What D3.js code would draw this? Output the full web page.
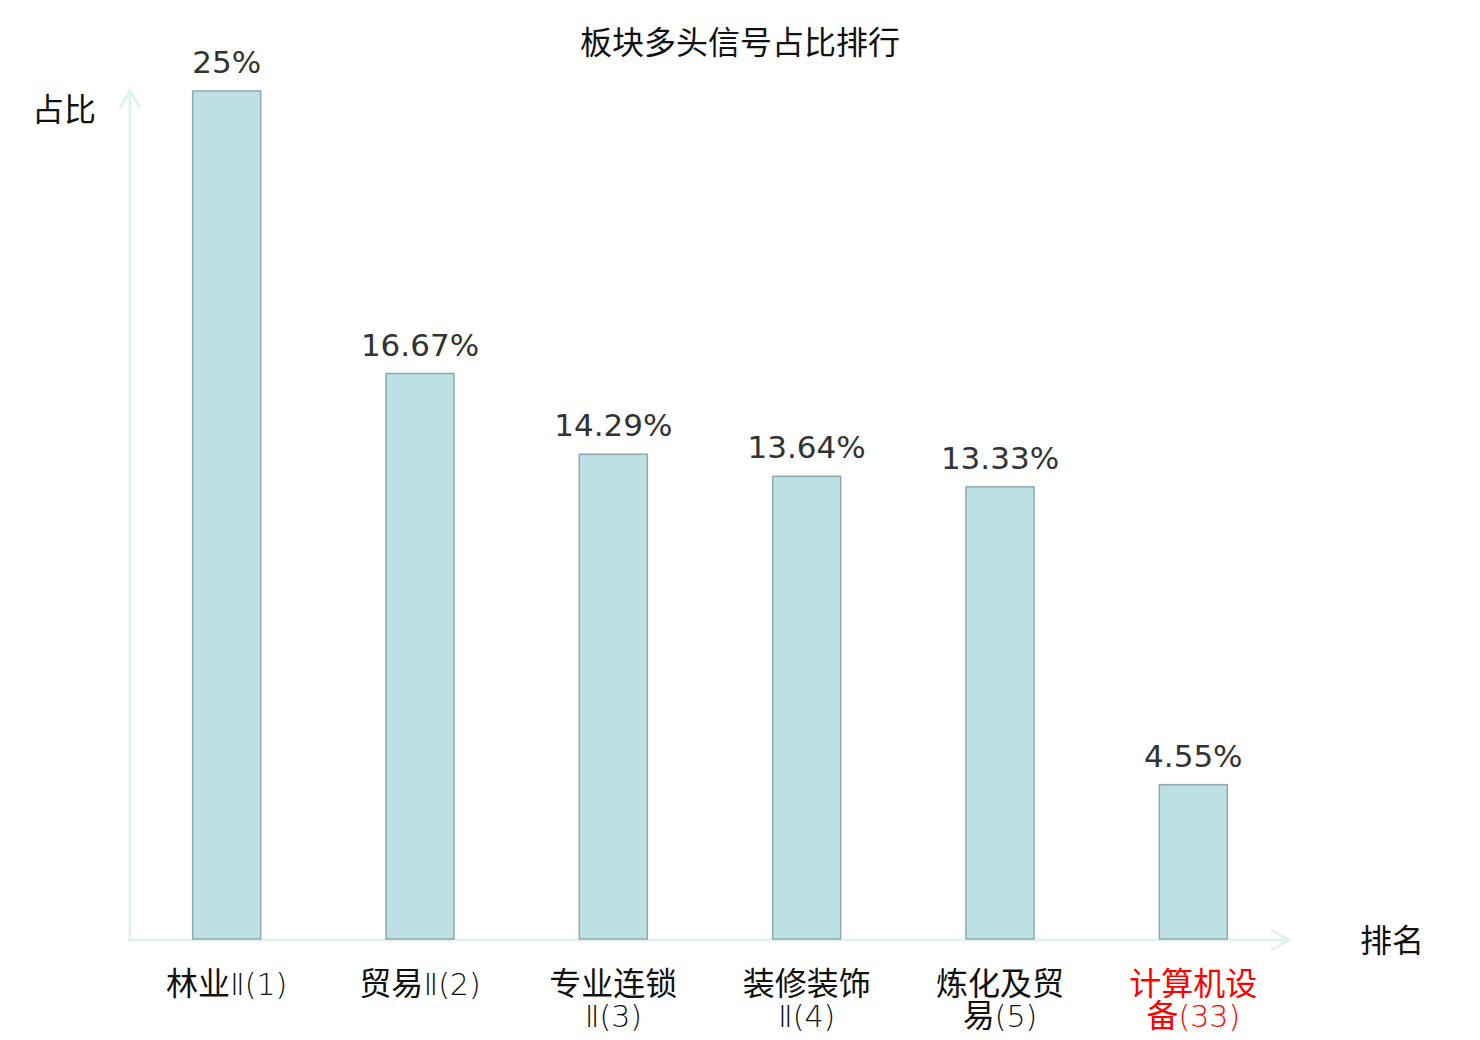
<!DOCTYPE html>
<html><head><meta charset="utf-8">
<script src="https://cdn.jsdelivr.net/npm/d3@7/dist/d3.min.js"></script>
<style>body{margin:0;background:#fff;}svg{display:block;}</style>
</head><body>
<script>
const categories = ["林业Ⅱ(1)", "贸易Ⅱ(2)", "专业连锁Ⅱ(3)", "装修装饰Ⅱ(4)", "炼化及贸易(5)", "计算机设备(33)"];
const labelLines = [["林业Ⅱ(1)"], ["贸易Ⅱ(2)"], ["专业连锁", "Ⅱ(3)"], ["装修装饰", "Ⅱ(4)"], ["炼化及贸", "易(5)"], ["计算机设", "备(33)"]];
const values = [25, 16.67, 14.29, 13.64, 13.33, 4.55];
const valueLabels = ["25%", "16.67%", "14.29%", "13.64%", "13.33%", "4.55%"];
const highlight = [false, false, false, false, false, true];

const W = 1480, H = 1040;
const svg = d3.select("body").append("svg").attr("width", W).attr("height", H);
const cjk = "'Noto Sans CJK SC', 'DejaVu Sans', sans-serif";
const num = "'DejaVu Sans', 'Noto Sans CJK SC', sans-serif";

const x = d3.scaleBand().domain(categories).range([130, 1290]).padding(0);
const y = d3.scaleLinear().domain([0, 25]).range([939, 91]);
const barW = 68;

// axes
const axisColor = "#dff2ef";
svg.append("line").attr("x1", 130).attr("y1", 940).attr("x2", 130).attr("y2", 91)
  .attr("stroke", axisColor).attr("stroke-width", 3);
svg.append("path").attr("d", "M120,108 L130,91 L140,108").attr("fill", "none")
  .attr("stroke", axisColor).attr("stroke-width", 3);
svg.append("line").attr("x1", 128).attr("y1", 940).attr("x2", 1289).attr("y2", 940)
  .attr("stroke", axisColor).attr("stroke-width", 3);
svg.append("path").attr("d", "M1271,930 L1289,940 L1271,950").attr("fill", "none")
  .attr("stroke", axisColor).attr("stroke-width", 3);

// bars
svg.selectAll("rect.bar").data(categories).join("rect")
  .attr("class", "bar")
  .attr("x", d => x(d) + x.bandwidth() / 2 - barW / 2)
  .attr("width", barW)
  .attr("y", (d, i) => y(values[i]))
  .attr("height", (d, i) => y(0) - y(values[i]))
  .attr("fill", "#bce0e3").attr("stroke", "#8fa9aa").attr("stroke-width", 1.5);

// value labels
svg.selectAll("text.val").data(categories).join("text")
  .attr("class", "val")
  .attr("x", d => x(d) + x.bandwidth() / 2)
  .attr("y", (d, i) => y(values[i]) - 18)
  .attr("text-anchor", "middle")
  .attr("font-family", num).attr("font-size", 31).attr("fill", "#333")
  .text((d, i) => valueLabels[i]);

// x labels: CJK parts in CJK font, the rest in a thin Latin face
const isCJK = ch => /[\u3400-\u9fff]/.test(ch);
function segments(s) {
  const out = [];
  for (const ch of s) {
    const k = isCJK(ch);
    if (out.length && out[out.length - 1].k === k) out[out.length - 1].t += ch;
    else out.push({ k, t: ch });
  }
  return out;
}
categories.forEach((c, i) => {
  const cx = x(c) + x.bandwidth() / 2;
  labelLines[i].forEach((ln, j) => {
    const t = svg.append("text")
      .attr("x", cx)
      .attr("y", 995 + j * 32)
      .attr("text-anchor", "middle")
      .attr("fill", highlight[i] ? "#ff0000" : "#111");
    segments(ln).forEach(sg => {
      t.append("tspan")
        .attr("font-family", sg.k ? cjk : "'DejaVu Sans', sans-serif")
        .attr("font-size", sg.k ? 32 : 30)
        .attr("font-weight", sg.k ? 400 : 200)
        .text(sg.t);
    });
  });
});

// titles
svg.append("text").attr("x", 740).attr("y", 54).attr("text-anchor", "middle")
  .attr("font-family", cjk).attr("font-size", 32).attr("fill", "#111").text("板块多头信号占比排行");
svg.append("text").attr("x", 32).attr("y", 121)
  .attr("font-family", cjk).attr("font-size", 32).attr("fill", "#111").text("占比");
svg.append("text").attr("x", 1360).attr("y", 952)
  .attr("font-family", cjk).attr("font-size", 32).attr("fill", "#111").text("排名");
</script>
</body></html>
